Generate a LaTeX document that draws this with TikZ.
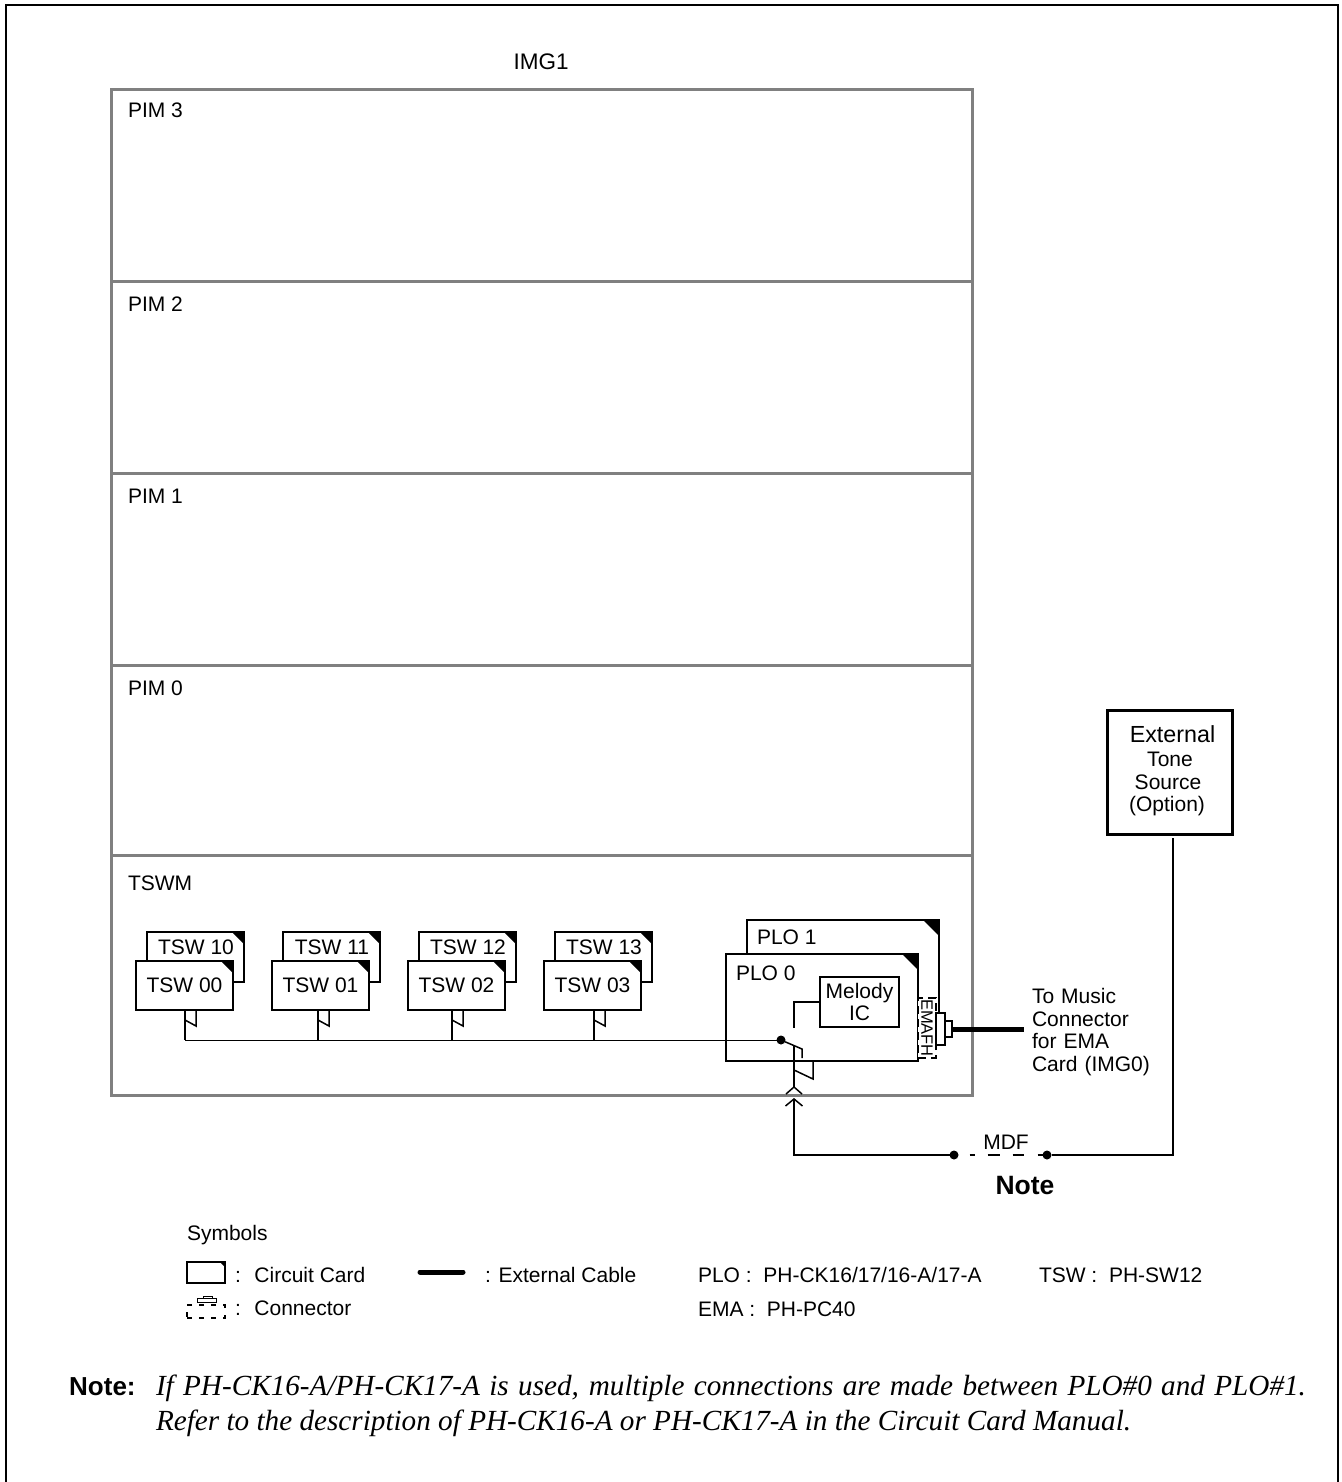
\documentclass[tikz,border=0pt]{standalone}
\usepackage{fontspec}
\setmainfont{Liberation Sans}
\newfontfamily\notefont{Liberation Serif}
\usetikzlibrary{arrows.meta}
\tikzset{
	panel/.style n args={2}{draw=gray,line width=3pt,minimum width=#1,minimum height=#2,anchor=north west,outer sep=0pt,inner sep=0pt},
	card/.style n args={3}{draw,fill=white,line width=1.5pt,minimum width=#1,minimum height=#2,anchor=north west,outer sep=0pt,inner sep=0pt,
		path picture={\fill[black] (path picture bounding box.north east)--+(-#3,0pt)--+(0pt,-#3)--cycle;}},
	box/.style n args={2}{draw,fill=white,line width=1.5pt,minimum width=#1,minimum height=#2,anchor=north west,outer sep=0pt,inner sep=0pt},
	lbl/.style={anchor=west,inner sep=0pt,outer sep=0pt},
	bas/.style={anchor=base,inner sep=0pt,outer sep=0pt},
	dot/.style={circle,fill=black,minimum size=9pt,inner sep=0pt,outer sep=0pt},
	wire/.style={line width=1.5pt},
	serif/.style={anchor=base west,inner sep=0pt,outer sep=0pt,font=\notefont\itshape\fontsize{29.2}{32}\selectfont},
}
\begin{document}
\begin{tikzpicture}[x=1pt,y=-1pt,>={Straight Barb[length=7pt,width=17pt]},font=\fontsize{21}{22.7}\selectfont,line join=miter]
	\useasboundingbox (0,0) rectangle (1341,1482);
	\coordinate (frm1) at (6,1482);
	\coordinate (frm2) at (6,5);
	\coordinate (frm3) at (1338,5);
	\coordinate (frm4) at (1338,1482);
	\draw[line width=2.5pt] (frm1)--(frm2)--(frm3)--(frm4);
	\node[font=\fontsize{22.5}{24}\selectfont] (img) at (541,62) {IMG1};
	\foreach \n/\t/\y/\h/\l in {p3/PIM 3/90/191/110,p2/PIM 2/281/192/304,p1/PIM 1/473/192/496,p0/PIM 0/665/190/688,tm/TSWM/855/240/883}{
		\node[panel={861pt}{\h pt}] (\n) at (111,\y) {};
		\node[lbl] (lbl\n) at (128,\l) {\t};
	}
	\foreach \n/\x in {0/136,1/272,2/408,3/544}{
		\node[card={97pt}{50pt}{12pt}] (tswb\n) at ({\x+11},932) {};
		\node (lblb\n) at ({\x+60},947) {TSW 1\n};
		\node[card={97pt}{49pt}{12pt}] (tswa\n) at (\x,961) {TSW 0\n};
	}
	\node[card={192pt}{93pt}{16pt}] (plob) at (747,920) {};
	\node[lbl] (lblplob) at (757,937) {PLO 1};
	\node[card={192pt}{107pt}{16pt}] (ploa) at (726,954) {};
	\node[lbl] (lblploa) at (736,973) {PLO 0};
	\node[box={79pt}{50pt},align=center] (ic) at (820,977) {Melody\\IC};
	\node[box={18pt}{60pt},dash pattern=on 8pt off 5pt] (ema) at (918,998) {};
	\node[rotate=-90,inner sep=0pt,font=\fontsize{16.5}{18}\selectfont] (lblema) at (927,1028) {EMAFH};
	\node[box={9pt}{32pt}] (plug) at (936,1013) {};
	\node[box={7pt}{16pt}] (pin) at (945,1021) {};
	\coordinate (cable) at (1024,1029);
	\draw[line width=5pt] (pin.east)--(cable);
	\node[lbl,align=left,text width=130pt] (music) at (1032,1032) {To Music\\Connector\\for EMA\\Card (IMG0)};
	\node[dot] (bus) at (781,1040) {};
	\coordinate (busl) at (185,1040);
	\draw[line width=1pt] (busl)--(bus);
	\foreach \n/\s in {0/185,1/318,2/452,3/594}{
		\coordinate (st\n) at (\s,1010);
		\coordinate (bs\n) at (\s,1040);
		\draw[wire] (st\n)--(bs\n);
		\draw[wire] ({\s+11},1010)--({\s+11},1026)--(\s,1020);
	}
	\coordinate (icl) at (794,1002);
	\coordinate (icb) at (794,1028);
	\draw[wire] (ic.west|-icl)--(icl)--(icb);
	\coordinate (swa) at (802,1049);
	\coordinate (swb) at (802,1058);
	\draw[wire] (bus)--(swa)--(swb);
	\coordinate (swt) at (794,1046);
	\coordinate (tipa) at (794,1087);
	\coordinate (tipb) at (794,1098);
	\coordinate (mdfc) at (794,1155);
	\draw[wire] (swt)--(tipa);
	\draw[wire] ([xshift=-8pt,yshift=-7pt]tipa)--(tipa)--([xshift=8pt,yshift=-7pt]tipa);
	\draw[wire] (813,1062)--(813,1079)--(794,1070);
	\node[dot] (mdfl) at (954,1155) {};
	\node[dot] (mdfr) at (1047,1155) {};
	\draw[wire,->] (mdfl)--(mdfc)--(tipb);
	\draw[wire,dash pattern=on 0pt off 11pt on 5pt off 13pt on 12pt off 13pt on 11pt off 14pt on 5pt off 5pt] (mdfl)--(mdfr);
	\node (mdf) at (1006,1142) {MDF};
	\node[font=\bfseries\fontsize{26.5}{28}\selectfont] (note) at (1025,1185) {Note};
	\node[box={125pt}{124pt},line width=3pt] (ext) at (1107,710) {};
	\node[bas,font=\fontsize{23.3}{25}\selectfont] (exta) at (1172.5,742) {External};
	\node[bas] (extb) at (1170,766) {Tone};
	\node[bas] (extc) at (1168,789) {Source};
	\node[bas] (extd) at (1167,811) {(Option)};
	\coordinate (exte) at (1173,1155);
	\coordinate (extf) at (1173,838);
	\draw[wire] (mdfr)--(exte)--(extf);
	\node[lbl] (sym) at (187,1235) {Symbols};
	\node[card={38pt}{21pt}{5pt}] (keycard) at (187,1262) {};
	\node[lbl] (lblkeycard) at (235,1275) {: \ Circuit Card};
	\coordinate (keya) at (420,1272);
	\coordinate (keyb) at (463,1272);
	\draw[line width=5pt,line cap=round] (keya)--(keyb);
	\node[lbl] (lblkeycable) at (485,1275) {: External Cable};
	\node[box={38pt}{13pt},fill=none,dash pattern=on 5pt off 7pt] (keycon) at (187,1305) {};
	\node[box={19pt}{4pt},line width=1pt] (keypin) at (197,1298) {};
	\node[box={9pt}{2pt},line width=1pt] (keytop) at (203,1296) {};
	\node[lbl] (lblkeycon) at (235,1308) {: \ Connector};
	\node[lbl] (plotxt) at (698,1275) {PLO : \ PH-CK16/17/16-A/17-A};
	\node[lbl] (tswtxt) at (1039,1275) {TSW : \ PH-SW12};
	\node[lbl] (ematxt) at (698,1309) {EMA : \ PH-PC40};
	\node[anchor=base west,inner sep=0pt,font=\bfseries\fontsize{26}{28}\selectfont] (notea) at (69,1395) {Note:};
	\node[serif] (noteb) at (156,1395) {\makebox[1150pt][s]{If PH-CK16-A/PH-CK17-A is used, multiple connections are made between PLO\#0 and PLO\#1.}};
	\node[serif] (notec) at (156,1430) {Refer to the description of PH-CK16-A or PH-CK17-A in the Circuit Card Manual.};
\end{tikzpicture}
\end{document}
